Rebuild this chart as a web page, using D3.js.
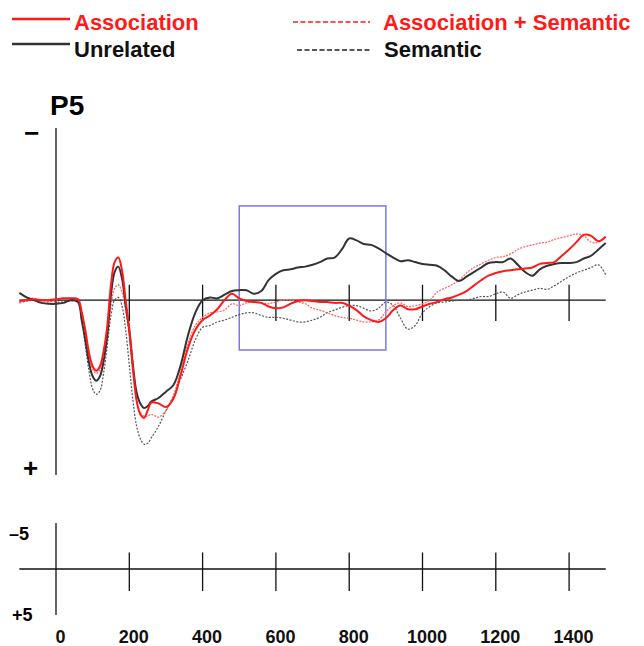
<!DOCTYPE html>
<html>
<head>
<meta charset="utf-8">
<script src="https://cdn.jsdelivr.net/npm/d3@7"></script>
<style>
  body { margin: 0; background: #fff; }
  text { font-family: "Liberation Sans", Arial, sans-serif; font-weight: bold; }
</style>
</head>
<body>
<script>
// ERP waveforms at electrode P5 (negative up), values in microvolts
const times = [-100,-80,-60,-40,-20,0,20,40,60,70,80,90,100,110,120,130,140,150,160,170,180,190,200,210,220,230,240,250,260,280,300,320,340,360,380,400,420,440,460,480,500,520,540,560,580,600,620,640,660,680,700,720,740,760,780,800,820,840,860,880,900,920,940,960,980,1000,1020,1040,1060,1080,1100,1120,1140,1160,1180,1200,1220,1240,1260,1280,1300,1320,1340,1360,1380,1400,1420,1440,1460,1480,1500];

const unrelated = [-0.8,-0.3,0,0.3,0.4,0.4,0.3,0,0.2,2.2,4.4,6.9,8.4,8.9,8.4,6.7,3.9,-0.6,-3.1,-3.7,-2.4,0.6,3.3,7.2,10.2,11.4,11.9,11.7,11.2,10.8,10.1,9.4,7.2,3.9,1.4,0,-0.3,-0.2,-0.6,-1,-1.1,-1.1,-0.7,-1,-2.2,-2.9,-3.3,-3.4,-3.6,-3.7,-3.9,-4.2,-4.6,-4.7,-5.6,-6.8,-6.6,-6.2,-6.1,-5.7,-5.2,-4.7,-4.3,-4.4,-4.2,-4,-3.9,-3.8,-3.3,-2.6,-2.1,-2.6,-3.1,-3.6,-4.1,-4.2,-4.2,-4.6,-3.9,-3.1,-2.7,-3.4,-3.8,-4,-4.1,-4.1,-4.2,-4.6,-4.9,-5.6,-6.3];

const association = [0.1,0,-0.1,0,0,-0.1,-0.2,-0.2,-0.1,1.3,3.3,5.8,7.3,7.8,7.3,5.6,2.8,-1.7,-4.2,-4.7,-3.3,0,3.3,7.6,11.1,12.6,13,12.2,11.3,11.4,11.8,10.9,8.3,5.3,3.3,2.2,1.7,1,0,-0.7,-0.2,0.1,0.2,0.3,0.7,0.9,0.8,0.4,0.1,0,0.1,0.2,0.2,0.3,0.3,0.6,1.1,1.8,2.2,2.4,2,1.1,0.6,1,1,0.7,0.4,0.2,-0.1,-0.3,-0.6,-1,-1.6,-2.2,-2.7,-3,-3.2,-3.3,-3.4,-3.5,-3.6,-4,-4.1,-4.2,-4.9,-5.6,-6.4,-7.2,-7.1,-6.5,-7];

const assocSemantic = [0.3,-0.1,-0.2,0.1,0.2,0,-0.2,-0.1,0,1.3,3.6,6,7.6,8.1,7.7,6.1,3.7,0.6,-1.3,-1.7,-0.9,1.1,3.9,7.8,11.1,12.4,12.8,12.8,12.6,12.9,12.2,10.6,7.8,4.8,2.8,1.9,1.4,1.3,1.1,0.4,0.6,0.3,0.2,0.3,0.4,0.2,0,0,0.2,0.4,0.9,1.1,1.4,1.7,1.9,2,2.2,2.4,2.4,2.2,1.3,0.6,0.3,0.7,0.6,0.4,0,-0.9,-1.3,-1.7,-2.2,-3,-3.6,-4,-4.4,-4.7,-4.8,-5.1,-5.6,-5.9,-6.1,-6.3,-6.4,-6.7,-6.9,-7.1,-7.3,-7.1,-6.4,-6.4,-7.1];

const semantic = [0.3,0.1,0,0,0.1,0.2,0.2,0.1,0.2,2,5,7.8,9.8,10.4,10,8,5,1.7,0,-0.3,0.6,3.3,7.2,11.1,13.9,15.3,15.9,15.8,15.2,13.9,12.2,10.6,8.7,6.7,4.4,3,2.8,2.4,2.2,1.9,1.6,1.4,1.4,1.7,1.9,1.9,2,2.2,2.4,2.4,2.2,1.9,1.4,1.1,0.8,0.6,0.6,0.9,1.2,0.9,0.2,0.6,2,3.2,2.8,1.4,0.7,0.3,0.2,0.1,0,0,-0.2,-0.4,-0.4,-0.7,-0.9,-0.2,-0.6,-0.9,-1.1,-1.3,-1.2,-1.6,-2.1,-2.6,-3,-3.3,-3.6,-3.9,-2.8];

const tickValues = [200, 400, 600, 800, 1000, 1200, 1400];
const tickLabels = ["0", "200", "400", "600", "800", "1000", "1200", "1400"];
const labelValues = [0, 200, 400, 600, 800, 1000, 1200, 1400];
const windowMs = [500, 900];
const windowUv = [-10.4, 5.5];

const series = [
  { name: "Association", values: association, color: "#ff1a1a", width: 2, dash: null },
  { name: "Unrelated", values: unrelated, color: "#333", width: 2, dash: null },
  { name: "Association + Semantic", values: assocSemantic, color: "#ff6a6a", width: 1.3, dash: "2,1.2" },
  { name: "Semantic", values: semantic, color: "#555", width: 1.2, dash: "2,1.5" }
];

const width = 644, height = 646;

const svg = d3.select("body")
  .append("svg")
  .attr("width", width)
  .attr("height", height);

const x = d3.scaleLinear().domain([-100, 1500]).range([19.35, 605.75]);
const y = d3.scaleLinear().domain([-19, 19.3]).range([128, 475]);
const yBar = d3.scaleLinear().domain([-5, 5]).range([523, 615]);

// legend
const legend = [
  { s: series[0], x1: 12, x2: 70, ly: 19, tx: 74, ty: 30 },
  { s: series[1], x1: 12, x2: 70, ly: 44, tx: 74, ty: 57 },
  { s: series[2], x1: 293, x2: 370, ly: 22, tx: 383, ty: 30 },
  { s: series[3], x1: 297, x2: 370, ly: 50, tx: 384, ty: 57 }
];
legend.forEach(l => {
  svg.append("line")
    .attr("x1", l.x1).attr("x2", l.x2).attr("y1", l.ly).attr("y2", l.ly)
    .attr("stroke", l.s.dash ? (l.s.color === "#555" ? "#222" : "#ff1a1a") : l.s.color)
    .attr("stroke-width", l.s.dash ? 1.5 : 2.5)
    .attr("stroke-dasharray", l.s.dash ? "5,2.5" : null);
  svg.append("text")
    .attr("x", l.tx).attr("y", l.ty)
    .attr("font-size", 22)
    .attr("fill", l.s.color === "#ff1a1a" || l.s.color === "#ff6a6a" ? "#ff1a1a" : "#111")
    .text(l.s.name);
});

// title and polarity marks
svg.append("text").attr("x", 50).attr("y", 115).attr("font-size", 28).text("P5");
svg.append("text").attr("x", 24).attr("y", 142).attr("font-size", 26).text("−");
svg.append("text").attr("x", 23).attr("y", 477).attr("font-size", 26).text("+");

// main axes
svg.append("line")
  .attr("x1", x(0)).attr("x2", x(0)).attr("y1", y(-19)).attr("y2", y(19.3))
  .attr("stroke", "#111").attr("stroke-width", 1.3);
svg.append("line")
  .attr("x1", x(-100)).attr("x2", x(1500)).attr("y1", y(0)).attr("y2", y(0))
  .attr("stroke", "#111").attr("stroke-width", 1.3);
svg.selectAll(".mtick")
  .data(tickValues)
  .enter().append("line")
  .attr("x1", d => x(d)).attr("x2", d => x(d))
  .attr("y1", y(-1.7)).attr("y2", y(2.3))
  .attr("stroke", "#111").attr("stroke-width", 1.3);

// analysis window
svg.append("rect")
  .attr("x", x(windowMs[0])).attr("y", y(windowUv[0]))
  .attr("width", x(windowMs[1]) - x(windowMs[0]))
  .attr("height", y(windowUv[1]) - y(windowUv[0]))
  .attr("fill", "none").attr("stroke", "#7878ee").attr("stroke-width", 1.5);

// waveforms
const line = d3.line()
  .x((d, i) => x(times[i]))
  .y(d => y(d))
  .curve(d3.curveCatmullRom.alpha(0.5));

[series[3], series[2], series[1], series[0]].forEach(s => {
  svg.append("path")
    .datum(s.values)
    .attr("d", line)
    .attr("fill", "none")
    .attr("stroke", s.color)
    .attr("stroke-width", s.width)
    .attr("stroke-dasharray", s.dash);
});

// calibration panel
svg.append("line")
  .attr("x1", x(0)).attr("x2", x(0)).attr("y1", yBar(-5)).attr("y2", yBar(5))
  .attr("stroke", "#111").attr("stroke-width", 1.3);
svg.append("line")
  .attr("x1", x(-100)).attr("x2", x(1500)).attr("y1", yBar(0)).attr("y2", yBar(0))
  .attr("stroke", "#111").attr("stroke-width", 1.3);
svg.selectAll(".btick")
  .data(tickValues)
  .enter().append("line")
  .attr("x1", d => x(d)).attr("x2", d => x(d))
  .attr("y1", yBar(-1.8)).attr("y2", yBar(2.4))
  .attr("stroke", "#111").attr("stroke-width", 1.3);
svg.append("text").attr("x", 9).attr("y", 540).attr("font-size", 18).text("–5");
svg.append("text").attr("x", 12).attr("y", 621).attr("font-size", 18).text("+5");

const axis = svg.append("g")
  .attr("transform", "translate(4, 627)")
  .call(d3.axisBottom(x).tickValues(labelValues).tickSize(0).tickFormat((d, i) => tickLabels[i]));
axis.select(".domain").remove();
axis.selectAll("text")
  .attr("font-size", 18)
  .attr("font-family", "Liberation Sans, Arial, sans-serif")
  .attr("font-weight", "bold")
  .attr("fill", "#111");
</script>
</body>
</html>
